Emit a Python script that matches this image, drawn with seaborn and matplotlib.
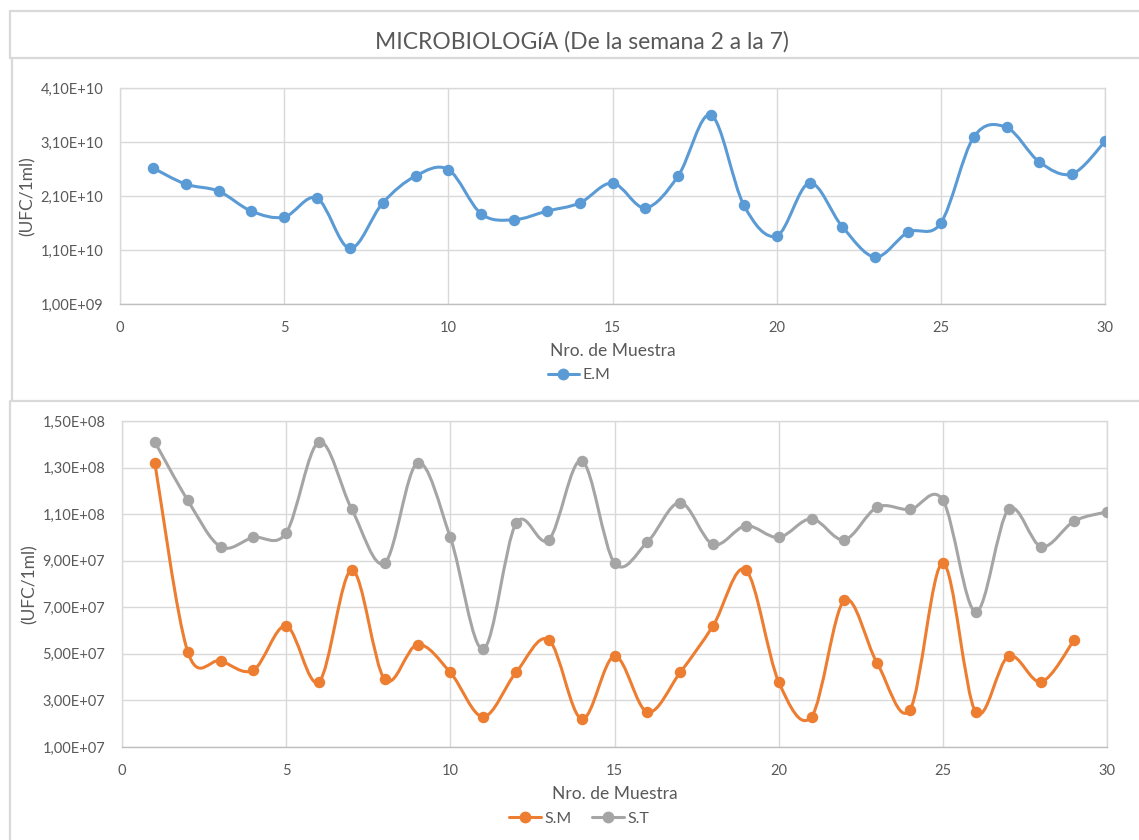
import numpy as np
import pandas as pd
import matplotlib
matplotlib.use("Agg")
import matplotlib.pyplot as plt
from matplotlib.path import Path
from matplotlib.patches import PathPatch
from matplotlib.lines import Line2D
from matplotlib.ticker import FuncFormatter, MultipleLocator, FixedLocator
import seaborn as sns

# ---- data ----
muestra = list(range(1, 31))
em = [2.62e10, 2.32e10, 2.19e10, 1.82e10, 1.71e10, 2.06e10, 1.13e10, 1.97e10, 2.47e10, 2.59e10,
      1.77e10, 1.66e10, 1.82e10, 1.97e10, 2.34e10, 1.88e10, 2.47e10, 3.60e10, 1.93e10, 1.36e10,
      2.34e10, 1.53e10, 0.97e10, 1.43e10, 1.60e10, 3.19e10, 3.37e10, 2.73e10, 2.51e10, 3.11e10]
sm = [1.32e8, 5.1e7, 4.7e7, 4.3e7, 6.2e7, 3.8e7, 8.6e7, 3.9e7, 5.4e7, 4.2e7,
      2.3e7, 4.2e7, 5.6e7, 2.2e7, 4.9e7, 2.5e7, 4.2e7, 6.2e7, 8.6e7, 3.8e7,
      2.3e7, 7.3e7, 4.6e7, 2.6e7, 8.9e7, 2.5e7, 4.9e7, 3.8e7, 5.6e7]
st = [1.41e8, 1.16e8, 9.6e7, 1.00e8, 1.02e8, 1.41e8, 1.12e8, 8.9e7, 1.32e8, 1.00e8,
      5.2e7, 1.06e8, 9.9e7, 1.33e8, 8.9e7, 9.8e7, 1.15e8, 9.7e7, 1.05e8, 1.00e8,
      1.08e8, 9.9e7, 1.13e8, 1.12e8, 1.16e8, 6.8e7, 1.12e8, 9.6e7, 1.07e8, 1.11e8]

top_yticks = [1.0e9, 1.1e10, 2.1e10, 3.1e10, 4.1e10]
bottom_yticks = [1.0e7, 3.0e7, 5.0e7, 7.0e7, 9.0e7, 1.1e8, 1.3e8, 1.5e8]

title = "MICROBIOLOGíA (De la semana 2 a la 7)"
xlabel = "Nro. de Muestra"
ylabel = "(UFC/1ml)"

BLUE, ORANGE, GREY = "#5B9BD5", "#ED7D31", "#A5A5A5"
TXT = "#595959"
GRID = "#D9D9D9"
FONT = ["Lato", "DejaVu Sans"]

sns.set_theme(style="white")
plt.rcParams["font.family"] = FONT
plt.rcParams["text.color"] = TXT


def smooth_path(x, y):
    """Cubic Bezier path through the points (Catmull-Rom style tangents)."""
    x = np.asarray(x, float)
    y = np.asarray(y, float)
    px = np.concatenate([[x[0]], x, [x[-1]]])
    py = np.concatenate([[y[0]], y, [y[-1]]])
    verts = [(x[0], y[0])]
    codes = [Path.MOVETO]
    for i in range(1, len(x)):
        c1 = (px[i] + (px[i + 1] - px[i - 1]) / 6, py[i] + (py[i + 1] - py[i - 1]) / 6)
        c2 = (px[i + 1] - (px[i + 2] - px[i]) / 6, py[i + 1] - (py[i + 2] - py[i]) / 6)
        verts += [c1, c2, (x[i], y[i])]
        codes += [Path.CURVE4] * 3
    return Path(verts, codes)


def sci_fmt(v, _):
    return f"{v:.2E}".replace(".", ",")


def style_axes(ax, yticks, ylabel_x):
    ax.set_xlim(0, 30)
    ax.set_ylim(yticks[0], yticks[-1])
    ax.xaxis.set_major_locator(MultipleLocator(5))
    ax.yaxis.set_major_locator(FixedLocator(yticks))
    ax.yaxis.set_major_formatter(FuncFormatter(sci_fmt))
    ax.grid(True, color=GRID, linewidth=1.0)
    ax.set_axisbelow(True)
    for side, sp in ax.spines.items():
        sp.set_visible(True)
        sp.set_color(GRID)
        sp.set_linewidth(1.0)
    ax.spines["bottom"].set_color("#BFBFBF")
    ax.tick_params(axis="y", length=0, colors=TXT, labelsize=10.5, pad=12)
    ax.tick_params(axis="x", length=0, colors=TXT, labelsize=10.5, pad=12)
    ax.set_xlabel(xlabel, fontsize=12.5, color=TXT, labelpad=6)
    ax.set_ylabel(ylabel, fontsize=12.5, color=TXT)
    ax.yaxis.set_label_coords(ylabel_x, 0.5)


def draw_series(ax, xs, ys, color, name):
    ax.add_patch(PathPatch(smooth_path(xs, ys), facecolor="none", edgecolor=color,
                           linewidth=2.2, capstyle="round", joinstyle="round", zorder=3))
    df = pd.DataFrame({"x": xs, "y": ys})
    sns.scatterplot(data=df, x="x", y="y", ax=ax, color=color, s=68,
                    edgecolor=color, linewidth=0, zorder=4, legend=False)
    return Line2D([], [], color=color, linewidth=2.2, marker="o", markersize=7.5, label=name)


fig = plt.figure(figsize=(11.39, 8.4), dpi=100)
W, H = 1139, 840


def fx(px):
    return px / W


def fy(py):
    return 1 - py / H


# ---- top panel ----
ax1 = fig.add_axes([fx(120), fy(304), fx(1105) - fx(120), fy(88) - fy(304)])
h_em = draw_series(ax1, muestra, em, BLUE, "E.M")
style_axes(ax1, top_yticks, (36 - 120) / 985)
ax1.legend(handles=[h_em], loc="center", bbox_to_anchor=(0.466, -0.33), frameon=False,
           fontsize=11.5, handlelength=2.0, handletextpad=0.2, labelcolor=TXT)

# ---- bottom panel ----
ax2 = fig.add_axes([fx(122), fy(747), fx(1107) - fx(122), fy(421) - fy(747)])
h_sm = draw_series(ax2, muestra[:len(sm)], sm, ORANGE, "S.M")
h_st = draw_series(ax2, muestra, st, GREY, "S.T")
style_axes(ax2, bottom_yticks, (38 - 122) / 985)
ax2.legend(handles=[h_sm, h_st], loc="center", bbox_to_anchor=(0.464, -0.22), frameon=False,
           ncol=2, fontsize=11.5, handlelength=2.0, handletextpad=0.2, columnspacing=1.3,
           labelcolor=TXT)

fig.text(fx(582), fy(42), title, ha="center", va="center", fontsize=16.5, color=TXT)

# ---- chart frames ----
def fline(x0, y0, x1, y1):
    fig.add_artist(Line2D([fx(x0), fx(x1)], [fy(y0), fy(y1)], color=GRID, linewidth=1.6))

fline(10, 11, W, 11)
fline(10, 58, W, 58)
fline(10, 11, 10, 58)
fline(12, 58, 12, 401)
fline(12, 401, W, 401)
fline(10, 401, 10, H)

fig.savefig("out.png", dpi=100, facecolor="white")
